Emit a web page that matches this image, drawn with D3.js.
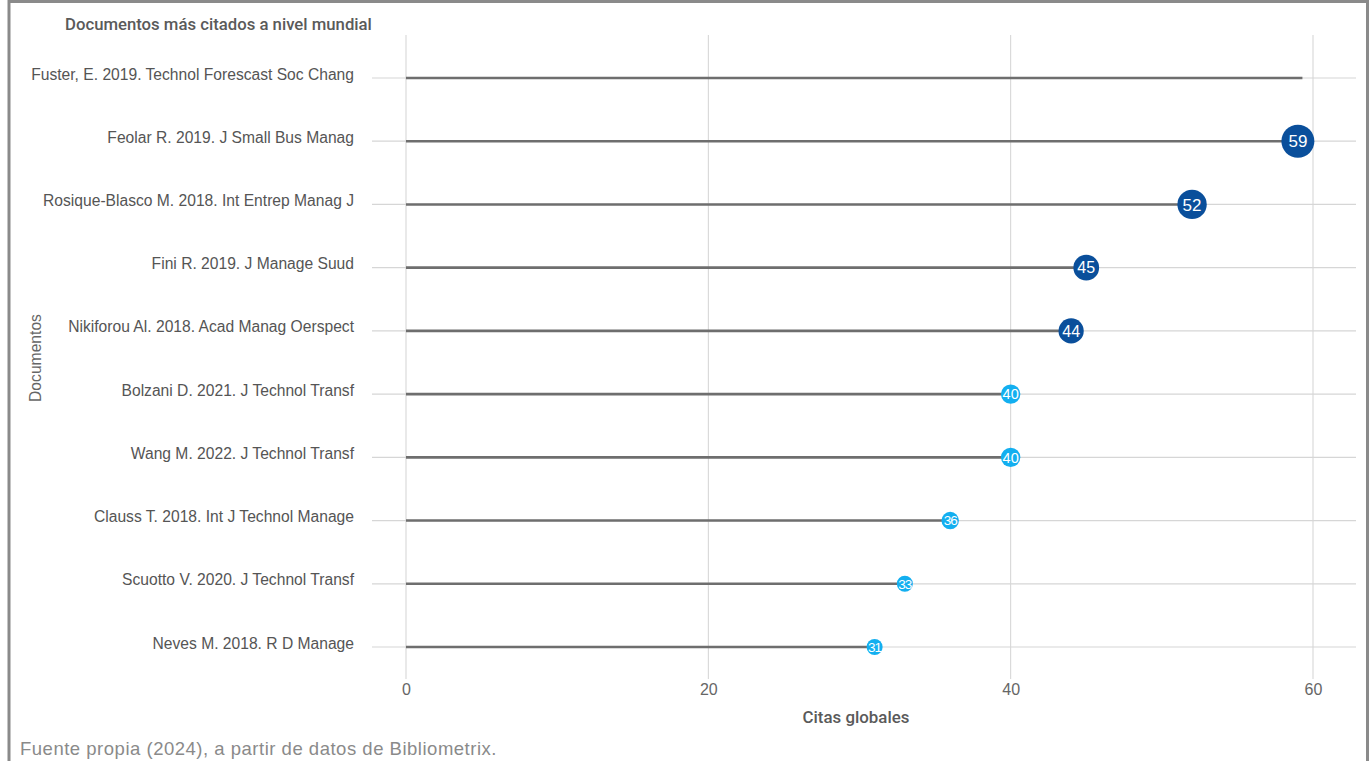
<!DOCTYPE html>
<html><head><meta charset="utf-8">
<script src="https://cdn.jsdelivr.net/npm/d3@7"></script>
<style>
html,body{margin:0;padding:0;background:#fff;}
svg{display:block;font-family:"Liberation Sans",Arial,sans-serif;}
</style></head>
<body><svg id="c" width="1369" height="761"></svg>
<script>
const documents = [
  "Fuster, E. 2019. Technol Forescast Soc Chang",
  "Feolar R. 2019. J Small Bus Manag",
  "Rosique-Blasco M. 2018. Int Entrep Manag J",
  "Fini R. 2019. J Manage Suud",
  "Nikiforou Al. 2018. Acad Manag Oerspect",
  "Bolzani D. 2021. J Technol Transf",
  "Wang M. 2022. J Technol Transf ",
  "Clauss T. 2018. Int J Technol Manage",
  "Scuotto V. 2020. J Technol Transf",
  "Neves M. 2018. R D Manage"
];
const stemValues = [59.3, 59, 52, 45, 44, 40, 40, 36, 33, 31];
const dotValues  = [null, 59, 52, 45, 44, 40, 40, 36, 33, 31];
const xTicks = [0, 20, 40, 60];

const title = "Documentos más citados a nivel mundial";
const xTitle = "Citas globales";
const yTitle = "Documentos";
const source = "Fuente propia (2024), a partir de datos de Bibliometrix.";

const svg = d3.select("#c");
const W = 1369, H = 761;

function fitSize(sel, target) {
  sel.each(function () {
    const len = this.getComputedTextLength();
    const fs = parseFloat(this.getAttribute("font-size"));
    if (len > 0) this.setAttribute("font-size", (fs * target / len).toFixed(2));
  });
}
function fitSpacing(sel, target) {
  sel.each(function () {
    const len = this.getComputedTextLength();
    const n = this.textContent.length;
    this.setAttribute("letter-spacing", ((target - len) / n).toFixed(3));
  });
}

// frame
svg.append("rect").attr("x", 9).attr("y", 1.5).attr("width", 1358.5).attr("height", H + 10)
  .attr("fill", "none").attr("stroke", "#8a8a8a").attr("stroke-width", 3);

const x = d3.scaleLinear().domain([0, 60]).range([406, 1313]);
const y = d3.scalePoint().domain(documents).range([78, 647]);
const r = d3.scaleLinear().domain([33, 40, 44, 59]).range([8, 9.7, 12.6, 16.5]).clamp(true);
const col = v => v >= 44 ? "#0a4f9b" : "#13aff0";

// vertical grid
svg.append("g").selectAll("line").data(xTicks).join("line")
  .attr("x1", d => x(d)).attr("x2", d => x(d))
  .attr("y1", 35).attr("y2", 679)
  .attr("stroke", "#d3d3d3").attr("stroke-width", 1);

// horizontal grid
svg.append("g").selectAll("line").data(documents).join("line")
  .attr("x1", 372).attr("x2", 1356)
  .attr("y1", d => y(d)).attr("y2", d => y(d))
  .attr("stroke", "#d6d6d6").attr("stroke-width", 1.2);

// x axis labels
const xAxis = d3.axisBottom(x).tickValues(xTicks).tickSize(0).tickPadding(0);
const ax = svg.append("g").attr("transform", "translate(0,684)").call(xAxis);
ax.select(".domain").remove();
ax.selectAll("text").attr("font-size", 16).attr("fill", "#666").attr("dy", "0.71em")
  .attr("font-family", "Liberation Sans, Arial, sans-serif");

// y labels
const yAxis = d3.axisLeft(y).tickSize(0).tickPadding(0);
const ay = svg.append("g").attr("transform", "translate(354,-4)").call(yAxis);
ay.select(".domain").remove();
ay.selectAll("text").attr("font-size", 15).attr("fill", "#555")
  .attr("font-family", "Liberation Sans, Arial, sans-serif");
(function () {
  const first = ay.select(".tick text").node();
  const len = first.getComputedTextLength();
  const fs = 15 * 323 / len;
  ay.selectAll("text").attr("font-size", fs.toFixed(2));
})();

// stems
svg.append("g").selectAll("line").data(documents).join("line")
  .attr("x1", x(0)).attr("x2", (d, i) => x(stemValues[i]))
  .attr("y1", d => y(d)).attr("y2", d => y(d))
  .attr("stroke", "#6e6e6e").attr("stroke-width", 2.6);

// dots
const dots = documents.map((d, i) => ({ d, v: dotValues[i] })).filter(o => o.v != null);
const g = svg.append("g").selectAll("g").data(dots).join("g")
  .attr("transform", o => `translate(${x(o.v)},${y(o.d)})`);
g.append("circle").attr("r", o => r(o.v)).attr("fill", o => col(o.v));
g.append("text").text(o => o.v)
  .attr("text-anchor", "middle").attr("dy", "0.36em")
  .attr("fill", "#fff")
  .attr("font-size", o => o.v >= 52 ? 17 : (o.v >= 44 ? 16 : (o.v >= 40 ? 14.5 : 13.5)))
  .attr("letter-spacing", o => o.v < 40 ? -1 : 0);

// titles
const t1 = svg.append("text").attr("x", 65).attr("y", 30).text(title)
  .attr("font-size", 15).attr("fill", "#5a5a5a")
  .attr("font-family", "Roboto, Liberation Sans, sans-serif").attr("font-weight", 500);
fitSize(t1, 307);
const t2 = svg.append("text").attr("x", 856).attr("y", 723).attr("text-anchor", "middle").text(xTitle)
  .attr("font-size", 15).attr("fill", "#5a5a5a")
  .attr("font-family", "Roboto, Liberation Sans, sans-serif").attr("font-weight", 500);
fitSize(t2, 107);
const t3 = svg.append("text").attr("transform", "translate(41,358) rotate(-90)")
  .attr("text-anchor", "middle").text(yTitle)
  .attr("font-size", 15).attr("fill", "#666");
fitSize(t3, 88);
const t4 = svg.append("text").attr("x", 20).attr("y", 755).text(source)
  .attr("font-size", 18.5).attr("fill", "#8a8a8a");
fitSpacing(t4, 477);
</script></body></html>
